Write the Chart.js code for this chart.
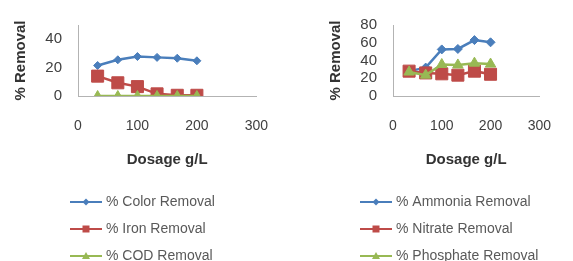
<!DOCTYPE html>
<html>
<head>
<meta charset="utf-8">
<script src="https://cdn.jsdelivr.net/npm/chart.js"></script>
<style>
  body { margin: 0; background: #fff; }
  #wrap { position: relative; width: 573px; height: 261px; }
  canvas { position: absolute; top: 0; }
</style>
</head>
<body>
<div id="wrap">
  <canvas id="leftChart" width="290" height="261" style="left:0"></canvas>
  <canvas id="rightChart" width="283" height="261" style="left:290px"></canvas>
</div>
<script>
// --- data ---
const dosage = [33, 67, 100, 133, 167, 200];
const xTicks = [0, 100, 200, 300];
const leftYTicks = [0, 20, 40];
const rightYTicks = [0, 20, 40, 60, 80];

const colorRemoval = [21.5, 25.5, 27.8, 27.2, 26.6, 24.8];
const ironRemoval = [14, 9.3, 6.6, 1.5, 0.5, 0.5];
const codRemoval = [0, 0, 0, 0, 0, 0];

const ammoniaRemoval = [28, 32, 52.5, 53, 63, 60.5];
const nitrateRemoval = [28, 26, 25, 23.5, 28, 24.5];
const phosphateRemoval = [27, 23.5, 35.5, 35, 37, 36];

const BLUE = '#4a7ebb', RED = '#be4b48', GREEN = '#98b954';
const FONT = "'Liberation Sans', Arial, sans-serif";

function points(values) {
    return values.map((v, i) => ({ x: dosage[i], y: v }));
}

function series(label, values, color, style, radius, order) {
    return {
        label: label,
        data: points(values),
        borderColor: color,
        backgroundColor: color,
        borderWidth: 2.5,
        pointStyle: style,
        pointRadius: radius,
        pointBorderWidth: 1,
        order: order
    };
}

// legend drawn as a column below the plot
const columnLegend = {
    id: 'columnLegend',
    afterDraw(chart) {
        const ctx = chart.ctx;
        chart.data.datasets.forEach((ds, i) => {
            const y = 202 + i * 27;
            const x0 = 70, len = 32, cx = x0 + len / 2;
            ctx.save();
            ctx.strokeStyle = ds.borderColor;
            ctx.lineWidth = 2;
            ctx.beginPath();
            ctx.moveTo(x0, y);
            ctx.lineTo(x0 + len, y);
            ctx.stroke();
            ctx.fillStyle = ds.borderColor;
            ctx.beginPath();
            if (ds.pointStyle === 'rectRot') {
                ctx.moveTo(cx, y - 3.5); ctx.lineTo(cx + 3.5, y); ctx.lineTo(cx, y + 3.5); ctx.lineTo(cx - 3.5, y);
            } else if (ds.pointStyle === 'rect') {
                ctx.rect(cx - 3.5, y - 3.5, 7, 7);
            } else {
                ctx.moveTo(cx, y - 4); ctx.lineTo(cx + 4, y + 3); ctx.lineTo(cx - 4, y + 3);
            }
            ctx.closePath();
            ctx.fill();
            ctx.fillStyle = '#595959';
            ctx.font = '14px ' + FONT;
            ctx.textBaseline = 'middle';
            ctx.fillText(ds.label, 106, y);
            ctx.restore();
        });
    }
};

function makeChart(id, datasets, yMax, yTicks, padding) {
    return new Chart(document.getElementById(id), {
        type: 'line',
        data: { datasets: datasets },
        options: {
            responsive: false,
            animation: false,
            layout: { padding: padding, autoPadding: false },
            plugins: { legend: { display: false }, tooltip: { enabled: false } },
            scales: {
                x: {
                    type: 'linear',
                    min: 0, max: 300,
                    afterFit(scale) { scale.height = 73; },
                    afterBuildTicks(scale) { scale.ticks = xTicks.map(v => ({ value: v })); },
                    grid: { display: false, drawTicks: false },
                    border: { display: true, color: '#b3b3b3', width: 1 },
                    ticks: { padding: 22, autoSkip: false, maxRotation: 0, color: '#404040', font: { family: FONT, size: 14 } },
                    title: { display: true, text: 'Dosage g/L', color: '#333', padding: 0,
                             font: { family: FONT, size: 15, weight: 'bold' } }
                },
                y: {
                    min: 0, max: yMax,
                    afterFit(scale) { scale.width = 78; },
                    afterBuildTicks(scale) { scale.ticks = yTicks.map(v => ({ value: v })); },
                    grid: { display: false, drawTicks: false },
                    border: { display: true, color: '#b3b3b3', width: 1 },
                    ticks: { autoSkip: false, padding: 16, color: '#404040', font: { family: FONT, size: 15 } },
                    title: { display: true, text: '% Removal', color: '#333', padding: { top: 12, bottom: 0 },
                             font: { family: FONT, size: 15, weight: 'bold' } }
                }
            }
        },
        plugins: [columnLegend]
    });
}

makeChart('leftChart', [
    series('% Color Removal', colorRemoval, BLUE, 'rectRot', 4, 3),
    series('% Iron Removal', ironRemoval, RED, 'rect', 8.5, 2),
    series('% COD Removal', codRemoval, GREEN, 'triangle', 5.5, 1)
], 50, leftYTicks, { left: 0, top: 15, right: 30, bottom: 92 });

makeChart('rightChart', [
    series('% Ammonia Removal', ammoniaRemoval, BLUE, 'rectRot', 4.5, 3),
    series('% Nitrate Removal', nitrateRemoval, RED, 'rect', 8.5, 2),
    series('% Phosphate Removal', phosphateRemoval, GREEN, 'triangle', 6, 1)
], 80, rightYTicks, { left: 25, top: 14, right: 13, bottom: 92 });
</script>
</body>
</html>
